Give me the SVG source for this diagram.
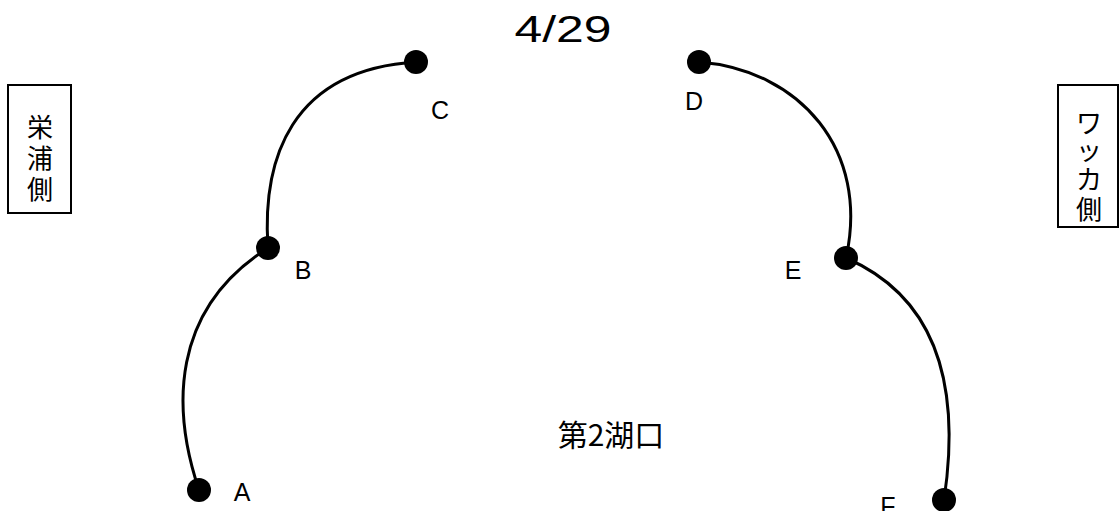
<svg xmlns="http://www.w3.org/2000/svg" width="1120" height="511" viewBox="0 0 1120 511">
<style>
.box{fill:#fff;stroke:#000;stroke-width:2}
.curve{fill:none;stroke:#000;stroke-width:3;stroke-linecap:round}
.dot{fill:#000}
.lbl{font-family:"Liberation Sans","Noto Sans CJK JP",sans-serif;font-size:25px;fill:#000;text-anchor:middle}
.jp{font-family:"Noto Sans CJK JP",sans-serif;font-size:26px;fill:#000;text-anchor:middle}
</style>
<rect width="1120" height="511" fill="#fff"/>
<g id="title"><text x="563" y="42" class="lbl" style="font-size:37px" textLength="97" lengthAdjust="spacingAndGlyphs">4/29</text></g>
<g id="left-box"><rect class="box" x="8" y="85" width="63" height="128"/>
<text class="jp" x="40" y="137">栄</text><text class="jp" x="40" y="168">浦</text><text class="jp" x="40" y="199">側</text></g>
<g id="right-box"><rect class="box" x="1058" y="85" width="60" height="142"/>
<text class="jp" x="1089" y="133">ワ</text><text class="jp" x="1089" y="160">ッ</text><text class="jp" x="1089" y="189">カ</text><text class="jp" x="1089" y="219">側</text></g>
<g id="connectors">
<path class="curve" d="M199,490 C172,410 170,310 268,248"/>
<path class="curve" d="M268,248 C262,160 290,70 416,62"/>
<path class="curve" d="M699,62 C800,70 870,150 846,258"/>
<path class="curve" d="M846,258 C920,290 965,360 944,500"/>
</g>
<g id="A"><circle class="dot" cx="199" cy="490" r="12"/><text class="lbl" x="242" y="501">A</text></g>
<g id="B"><circle class="dot" cx="268" cy="248" r="12"/><text class="lbl" x="303" y="279">B</text></g>
<g id="C"><circle class="dot" cx="416" cy="62" r="12"/><text class="lbl" x="440" y="119">C</text></g>
<g id="D"><circle class="dot" cx="699" cy="62" r="12"/><text class="lbl" x="694" y="110">D</text></g>
<g id="E"><circle class="dot" cx="846" cy="258" r="12"/><text class="lbl" x="793" y="279">E</text></g>
<g id="F"><circle class="dot" cx="944" cy="500" r="12"/><text class="lbl" x="888" y="515">F</text></g>
<g id="center"><text class="jp" x="611" y="446" style="font-size:30px">第2湖口</text></g>
</svg>
